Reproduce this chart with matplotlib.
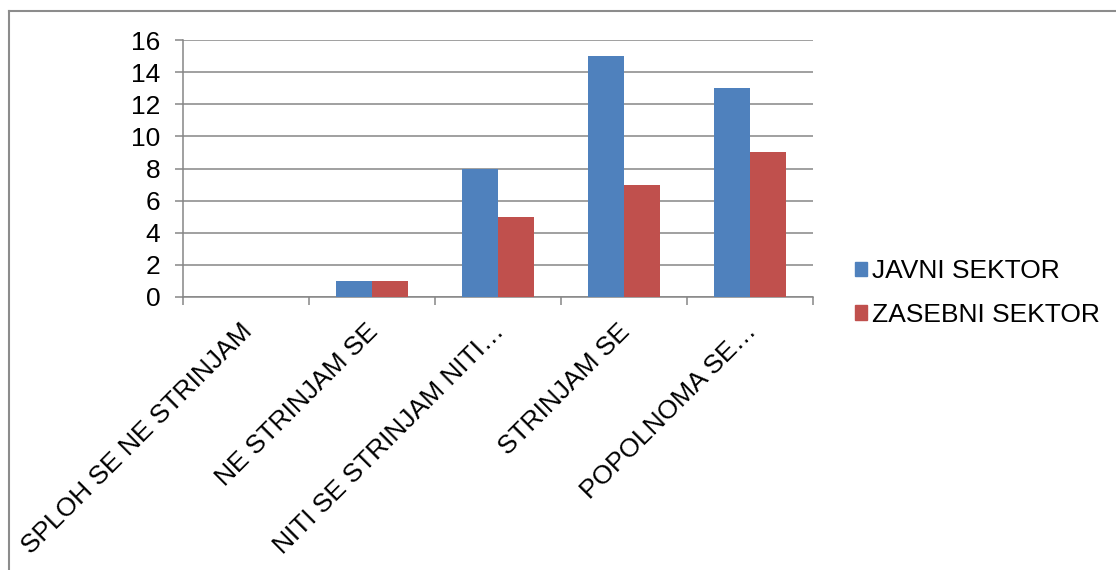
import matplotlib
matplotlib.use("Agg")
import matplotlib.pyplot as plt
import matplotlib.transforms as mtransforms
from matplotlib.lines import Line2D
from matplotlib.patches import Patch
import numpy as np

plt.rcParams['font.family'] = ['Liberation Sans', 'DejaVu Sans']

categories = ["SPLOH SE NE STRINJAM", "NE STRINJAM SE", "NITI SE STRINJAM NITI…",
              "STRINJAM SE", "POPOLNOMA SE…"]
javni = [0, 1, 8, 15, 13]
zasebni = [0, 1, 5, 7, 9]
series_names = ["JAVNI SEKTOR", "ZASEBNI SEKTOR"]
y_ticks = [0, 2, 4, 6, 8, 10, 12, 14, 16]

blue = "#4F81BD"
red = "#C0504D"
grey = "#868686"

W, H = 1116, 570
fig = plt.figure(figsize=(W / 100, H / 100), dpi=100)
ax = fig.add_axes([183 / W, 1 - 297 / H, (813 - 183) / W, (297 - 40) / H])

x = np.arange(len(categories))
w = 0.2857
ax.bar(x - w / 2, javni, w, color=blue, zorder=3)
ax.bar(x + w / 2, zasebni, w, color=red, zorder=3)

ax.set_xlim(-0.5, len(categories) - 0.5)
ax.set_ylim(0, 16)
ax.set_yticks(y_ticks)
ax.yaxis.grid(True, color=grey, linewidth=1.1, zorder=0)
ax.tick_params(axis='y', length=5.8, width=1.1, color=grey, labelsize=19, pad=10.5)

ax.set_xticks(x)
ax.set_xticklabels(categories, rotation=45, ha='right', va='top',
                   rotation_mode='anchor', fontsize=19)
ax.tick_params(axis='x', which='major', length=0, pad=16)
ax.set_xticks(np.arange(-0.5, len(categories)), minor=True)
ax.tick_params(axis='x', which='minor', length=5.8, width=1.1, color=grey)

# nudge the slanted category labels a little to the left
shift = mtransforms.ScaledTranslation(-6 / 100, 0, fig.dpi_scale_trans)
for lbl in ax.get_xticklabels():
    lbl.set_transform(lbl.get_transform() + shift)

for side in ('top', 'right'):
    ax.spines[side].set_visible(False)
for side in ('left', 'bottom'):
    ax.spines[side].set_color(grey)
    ax.spines[side].set_linewidth(1.1)

handles = [Patch(color=blue), Patch(color=red)]
fig.legend(handles, series_names, loc='center left',
           bbox_to_anchor=(842 / W, 1 - 293 / H), frameon=False,
           fontsize=19, handlelength=0.45, handleheight=0.45,
           handletextpad=0.2, labelspacing=0.75, borderpad=0)

# outer chart frame
fig.add_artist(Line2D([9 / W, 1], [1 - 11 / H, 1 - 11 / H], color="#8C8C8C", lw=1.5))
fig.add_artist(Line2D([9 / W, 9 / W], [0, 1 - 11 / H], color="#8C8C8C", lw=1.5))

fig.savefig("out.png", dpi=100)
